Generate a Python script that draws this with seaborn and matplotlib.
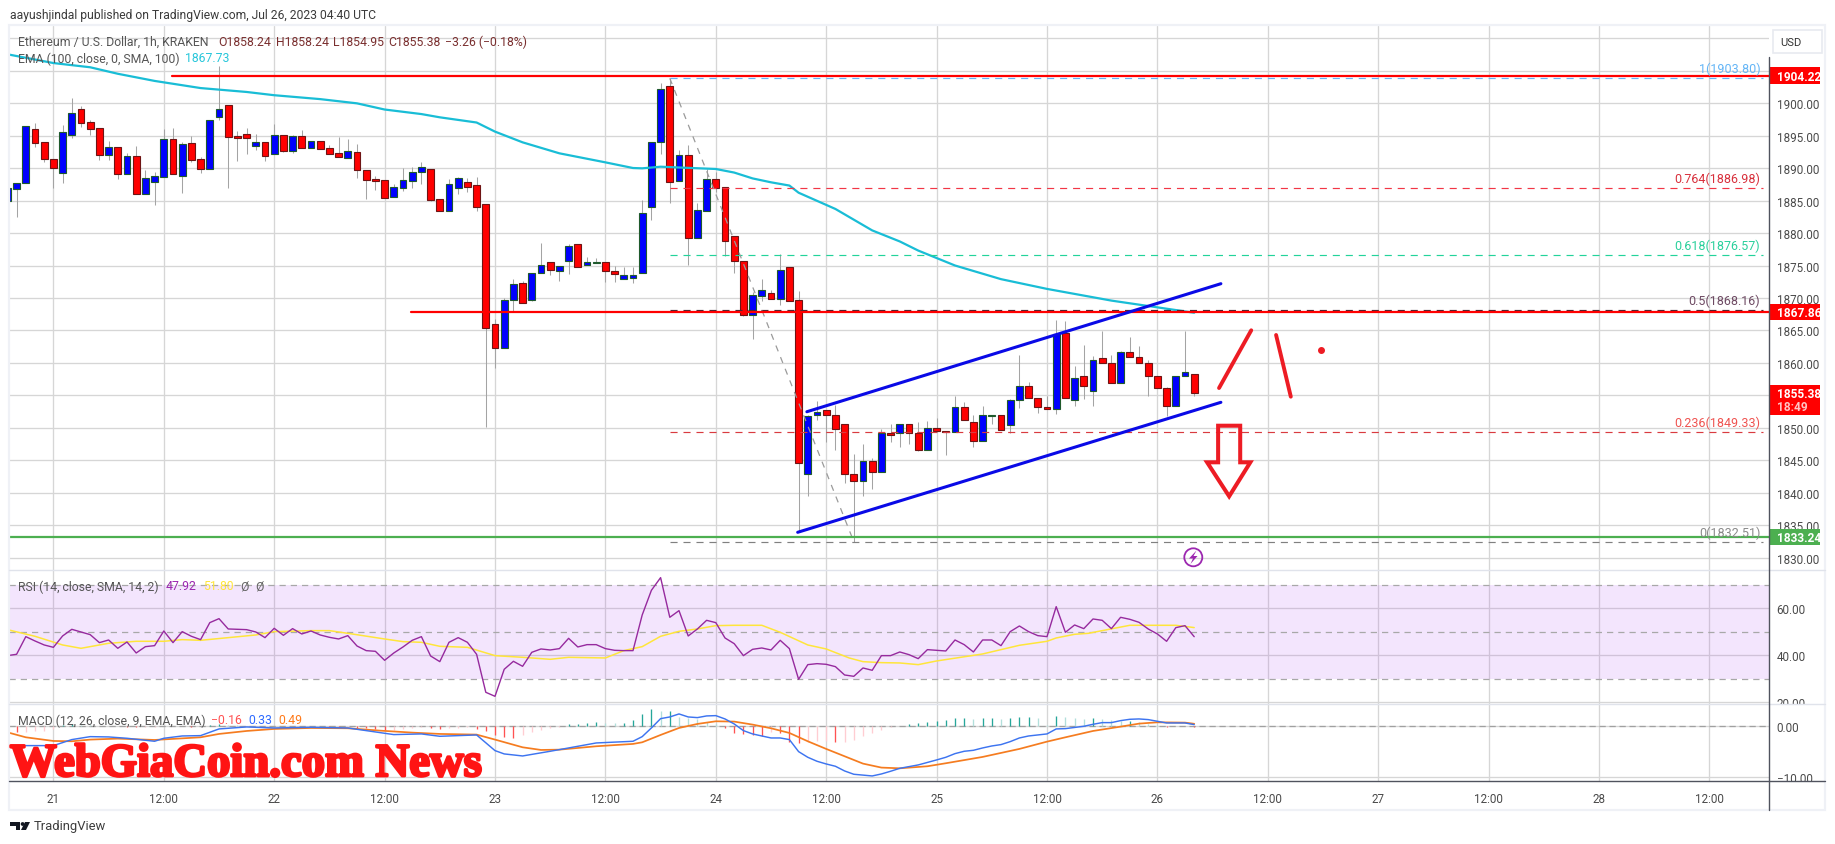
import matplotlib
matplotlib.use("Agg")
import matplotlib.pyplot as plt
import matplotlib.patheffects as pe
from matplotlib.patches import Rectangle, Circle, Polygon
from matplotlib.transforms import Bbox
import seaborn as sns

# ============================================================
# DATA (hours counted from Jul 21 00:00 UTC)
# ============================================================

HOURS = list(range(-5, 125))

OPEN = [1884.97,1886.82,1887.64,1895.95,1893.95,1891.33,1889.28,1895.13,1899.03,1897.03,
        1896.10,1892.05,1893.18,1889.13,1891.79,1886.05,1887.90,1888.67,1894.41,1888.82,
        1893.79,1891.33,1889.90,1897.90,1899.64,1894.92,1895.18,1893.44,1893.95,1892.21,
        1895.03,1892.67,1894.87,1893.13,1894.10,1893.03,1892.26,1891.59,1892.41,1889.64,
        1888.26,1888.10,1885.59,1886.97,1888.05,1889.44,1889.79,1885.18,1883.44,1886.97,
        1887.79,1887.33,1884.41,1865.95,1862.26,1869.74,1872.26,1869.74,1873.79,1875.49,
        1874.21,1875.74,1878.26,1875.13,1875.44,1875.49,1874.10,1872.97,1873.13,1873.79,
        1884.05,1893.95,1902.56,1887.95,1891.95,1879.28,1883.44,1888.26,1887.03,1879.49,
        1875.64,1867.44,1870.36,1870.72,1869.90,1874.72,1869.64,1842.87,1851.95,1852.71,
        1851.95,1850.56,1842.97,1841.79,1844.87,1843.18,1849.28,1849.18,1850.66,1849.18,
        1846.66,1849.95,1849.48,1849.33,1853.18,1850.97,1847.95,1851.89,1851.95,1850.51,
        1854.25,1856.41,1854.56,1853.18,1852.87,1864.56,1854.25,1857.95,1855.64,1860.71,
        1859.95,1856.87,1861.64,1860.87,1859.95,1857.95,1856.10,1853.43,1857.95,1858.24]

CLOSE = [1886.87,1887.69,1896.41,1893.90,1891.44,1890.05,1895.49,1898.41,1896.97,1896.05,
         1892.05,1893.18,1889.13,1891.79,1886.05,1888.41,1888.72,1894.41,1889.13,1893.64,
         1891.28,1889.90,1897.33,1899.03,1894.82,1894.67,1894.67,1893.95,1891.90,1895.03,
         1892.67,1894.87,1893.13,1894.10,1892.97,1892.21,1891.74,1892.56,1889.74,1888.21,
         1888.05,1885.44,1887.03,1888.10,1889.44,1890.10,1885.13,1883.44,1887.49,1888.41,
         1887.13,1884.05,1865.33,1862.26,1869.64,1872.10,1869.28,1873.79,1875.03,1874.36,
         1874.87,1877.95,1874.82,1875.49,1875.54,1874.10,1873.64,1873.49,1873.49,1883.03,
         1893.95,1902.10,1887.90,1891.95,1879.28,1883.49,1888.26,1886.92,1878.82,1875.64,
         1867.44,1870.41,1871.18,1869.90,1874.26,1869.59,1844.56,1851.89,1852.41,1851.95,
         1849.89,1842.87,1841.79,1844.87,1843.18,1849.28,1848.97,1850.66,1849.18,1846.66,
         1849.95,1849.59,1849.33,1853.18,1851.18,1847.95,1851.95,1851.95,1849.74,1854.25,
         1856.41,1854.56,1853.18,1852.87,1864.46,1854.56,1857.74,1856.41,1860.51,1859.95,
         1856.87,1861.64,1860.87,1859.95,1857.95,1856.10,1853.43,1857.95,1858.56,1855.38]

HIGH = [1886.87,1887.69,1896.41,1896.92,1893.95,1891.33,1896.62,1900.77,1899.49,1897.38,
        1896.10,1894.10,1893.18,1892.36,1893.44,1889.69,1889.44,1896.00,1896.10,1894.05,
        1894.97,1891.69,1897.33,1905.64,1899.64,1895.69,1896.15,1895.23,1893.95,1896.77,
        1895.03,1895.08,1895.85,1894.21,1894.10,1893.59,1894.72,1894.46,1893.69,1889.64,
        1888.72,1888.10,1887.49,1890.00,1890.10,1890.87,1889.79,1885.18,1888.31,1888.56,
        1888.46,1888.67,1884.41,1866.77,1869.95,1872.92,1872.56,1873.79,1878.46,1875.49,
        1874.87,1878.31,1878.26,1876.26,1876.10,1875.49,1874.97,1874.77,1874.77,1885.03,
        1893.95,1903.08,1903.80,1892.72,1893.49,1884.62,1889.85,1889.33,1887.03,1879.49,
        1875.64,1870.87,1872.92,1871.18,1876.72,1874.72,1871.08,1851.99,1854.10,1852.71,
        1853.54,1850.56,1846.00,1847.54,1845.33,1849.84,1850.61,1850.66,1850.66,1850.87,
        1851.13,1851.48,1849.48,1854.87,1853.95,1851.99,1853.33,1851.95,1851.95,1854.46,
        1861.23,1857.02,1854.56,1854.97,1866.56,1866.41,1859.48,1862.77,1861.02,1864.87,
        1861.23,1861.79,1863.95,1862.61,1860.46,1857.95,1856.36,1857.95,1864.87,1858.24]

LOW = [1884.97,1882.41,1887.64,1893.28,1890.87,1886.97,1887.69,1894.56,1896.31,1895.08,
       1891.23,1891.23,1888.31,1889.13,1886.05,1886.05,1884.31,1888.67,1889.13,1886.15,
       1890.97,1889.23,1889.90,1897.33,1886.97,1891.08,1892.15,1892.77,1891.08,1892.21,
       1892.41,1892.31,1893.13,1893.08,1892.97,1892.21,1891.74,1891.59,1888.41,1885.23,
       1886.67,1885.44,1885.59,1886.51,1886.92,1887.54,1884.92,1883.44,1883.44,1886.00,
       1886.36,1883.44,1850.20,1859.28,1862.26,1868.05,1869.28,1869.59,1873.79,1873.59,
       1872.67,1873.74,1874.82,1875.13,1875.44,1872.51,1872.51,1872.97,1872.36,1873.79,
       1882.05,1892.15,1884.67,1887.95,1875.13,1879.28,1883.44,1886.26,1876.41,1873.79,
       1867.28,1863.74,1869.59,1869.90,1868.97,1869.59,1833.95,1839.59,1851.28,1847.79,
       1846.61,1841.48,1832.51,1839.59,1840.61,1843.18,1847.89,1847.13,1847.54,1846.46,
       1846.66,1849.33,1845.89,1849.33,1851.18,1847.13,1847.95,1850.61,1849.74,1849.18,
       1853.13,1854.56,1852.30,1852.87,1852.15,1854.56,1853.43,1854.46,1853.43,1859.95,
       1856.87,1856.87,1860.87,1859.95,1854.97,1856.10,1851.79,1853.43,1857.95,1854.95]

EMA_H = [-5,0,4,7,11,16,21,24,29,33,36,40,42,46,48,51,55,60,63,64,66,68.5,72,74,76,78,80,81,85,89,92,94,98,103,108,115,124]
EMA_V = [1907.5,1906.15,1905.5,1904.5,1903.4,1902.3,1901.7,1901.2,1900.6,1899.95,1899.0,1898.3,1897.8,1897.0,
         1895.6,1893.95,1892.26,1890.87,1890.0,1889.95,1890.2,1890.05,1889.85,1889.3,1888.4,1887.8,1887.3,1886.2,
         1883.7,1880.4,1878.7,1877.3,1875.0,1872.9,1871.4,1869.6,1867.73]

RSI = [39.86,40.43,47.94,46.10,44.40,43.40,48.23,51.06,49.93,48.79,45.39,46.52,42.98,45.67,40.99,43.69,44.11,
       50.35,45.39,50.07,48.09,46.67,53.90,55.60,51.21,51.06,50.92,49.93,47.52,51.49,48.51,51.35,49.08,50.35,
       48.65,47.66,46.95,48.37,43.97,41.99,41.70,37.87,40.99,43.55,46.38,47.94,39.72,37.30,45.53,47.52,45.53,
       40.43,24.26,22.55,34.04,37.45,35.32,41.28,42.70,42.27,42.84,47.23,43.55,44.54,44.54,42.84,42.13,41.99,41.99,
       57.16,67.66,73.05,56.17,59.01,48.23,51.21,54.89,53.90,47.38,44.96,39.86,42.55,43.12,42.27,46.38,42.84,
       29.79,36.03,36.45,36.17,35.18,31.63,31.06,34.61,33.62,39.86,39.86,41.42,40.28,38.58,42.41,42.13,41.84,
       46.52,44.54,41.42,46.52,46.52,44.11,50.07,52.48,50.07,48.37,47.94,60.71,49.79,52.91,51.35,55.46,54.89,
       51.35,56.17,55.32,54.04,51.21,49.08,45.96,51.77,52.62,47.92]

RSI_MA_H = [-5,-2,1,3,6,9,12,14,16,22,24,28,30,32,36,38,40,42,45,48,51,54,56,60,62,64,66,68,70,72,74,77,79,82,84,86.5,88,90,92,94,96,101,105,108,109,111,112.5,117,122,124]
RSI_MA_V = [50.92,48.09,44.40,42.98,45.11,45.96,45.96,46.67,46.38,48.65,50.07,50.50,50.50,49.36,46.95,45.82,45.53,43.83,43.40,
            39.86,39.15,38.30,39.15,38.87,41.99,43.69,48.09,50.21,51.21,52.62,52.77,52.77,49.79,44.40,42.70,38.87,37.30,36.88,
            36.74,36.03,37.59,40.57,44.26,45.96,47.38,48.94,49.36,52.77,52.77,51.80]

MACD_H = [-3,0,2,4,6,8,11,12,14,16,18,21,24,28,32,34,37,40,42,46,48,49,51,54,56,59,63,64,65,66,67,68,69,70,71,72,73,74,75,76,77,78,79,80,81,82,
          83,84,85,86,87,89,90,91,92,94,96,97,98,99,100,101,102,103,104,105,106,108,109,110,112,113,114,115,116,117,118,119,120,121,123,124]
MACD_V = [-3.79,-3.79,-2.61,-2.03,-2.09,-2.35,-2.94,-2.35,-1.90,-1.83,-0.52,-0.13,-0.33,-0.20,-0.33,-0.85,-1.63,-1.50,-1.96,-1.70,
          -4.77,-5.42,-5.82,-4.90,-4.25,-3.27,-2.94,-2.03,-0.33,1.50,1.83,2.42,1.83,1.70,2.03,2.09,1.44,0.46,-0.85,-1.50,-1.90,-2.29,
          -2.29,-2.61,-4.97,-6.08,-6.86,-7.39,-7.84,-8.76,-9.41,-9.74,-9.35,-8.82,-8.24,-7.58,-6.60,-6.08,-5.36,-4.90,-4.71,-4.25,-3.86,
          -3.59,-3.01,-2.29,-1.90,-1.50,-0.52,-0.46,0.00,0.39,0.72,0.72,1.11,1.37,1.44,1.31,0.98,0.65,0.65,0.33]

SIGNAL_H = [-5,-3,0,2,4,7,11,16,18,21,24,28,32,35.5,39,42,46,48,51,53,55,59,63,64,66,68,70,72,74,76,78,80,82,84,86,88,90,92,95,97,101,105,108,110,113,116,118,120,123,124]
SIGNAL_V = [-1.18,-2.16,-2.88,-2.94,-2.61,-2.42,-2.68,-2.16,-1.50,-0.92,-0.52,-0.33,-0.39,-0.85,-1.24,-1.50,-1.63,-2.61,-4.12,-4.64,
            -4.58,-3.92,-3.46,-3.14,-1.70,-0.33,0.46,0.98,0.92,0.33,-0.39,-1.31,-2.94,-4.44,-5.88,-7.32,-8.10,-8.24,-7.84,-7.25,-6.01,
            -4.44,-3.01,-2.16,-0.92,-0.07,0.52,0.78,0.72,0.49]

HIST = [-1.0,-1.1,-1.1,-1.0,-0.9,-0.6,0.2,0.4,0.3,0.25,0.15,0.05,0.05,-0.05,-0.1,-0.1,-0.05,0.1,0.1,0.05,-0.05,0.1,
        0.3,0.4,0.3,0.25,0.15,0.1,0.05,0.05,0.1,0.1,0.05,0.05,0.0,-0.05,-0.1,-0.1,-0.3,-0.4,-0.6,-0.8,-0.7,-0.5,-0.3,-0.2,
        -0.4,-0.5,-0.4,-0.3,-0.2,-0.6,-1.0,-1.7,-2.1,-2.2,-1.7,-1.2,-0.7,-0.3,-0.1,0.5,0.5,0.7,0.8,0.65,0.6,0.65,
        1.2,2.4,3.4,2.9,2.9,1.8,1.7,1.4,0.9,0.4,-0.3,-1.3,-1.6,-1.7,-1.9,-1.05,-1.4,-3.0,-3.3,-3.1,-2.9,-2.8,-3.0,-3.0,
        -2.6,-2.0,-1.3,-0.65,-0.1,0.05,0.45,0.65,0.85,1.05,1.25,1.6,1.6,1.4,1.6,1.6,1.4,1.6,1.8,1.8,1.6,0.2,2.0,1.8,1.6,
        1.4,1.6,1.4,1.2,1.0,1.0,0.8,0.5,0.2,-0.05,0.0,0.05,-0.16]

FIB_LEVELS = [1903.80, 1886.98, 1876.57, 1868.16, 1849.33, 1832.51]
FIB_RATIOS = ["1", "0.764", "0.618", "0.5", "0.236", "0"]
FIB_COLORS = ["#64b5f6", "#f23645", "#22d39b", "#3a2a35", "#d93b40", "#808080"]
FIB_TEXT = ["#64b5f6", "#d8303c", "#2ad09c", "#6e4a63", "#ef5350", "#8a8a8a"]

DAY_TICKS = list(range(0, 181, 12))
DAY_LABELS = ["21", "12:00", "22", "12:00", "23", "12:00", "24", "12:00",
              "25", "12:00", "26", "12:00", "27", "12:00", "28", "12:00"]

# ============================================================
# FIGURE
# ============================================================

sns.set_theme(style="white")
plt.rcParams["font.family"] = ["Roboto", "DejaVu Sans"]

W, H = 1835, 845
GRID = "#d6d6d6"
TXT = "#4a4a4a"
X_LEFT, X_RIGHT = 9, 1769
LEG = 8.85


def hour_x(px):
    return (px - 53.4) / 9.2


def price_y(v):
    return 104 + (1900 - v) * 6.5


def panel(top, bottom):
    return fig.add_axes([X_LEFT / W, 1 - bottom / H, (X_RIGHT - X_LEFT) / W, (bottom - top) / H])


fig = plt.figure(figsize=(W / 100, H / 100), dpi=100, facecolor="white")
ax = panel(27, 571)
ax_rsi = panel(571, 705)
ax_macd = panel(705, 782)

for a in (ax, ax_rsi, ax_macd):
    a.set_xlim(hour_x(X_LEFT), hour_x(X_RIGHT))
    a.set_xticks(DAY_TICKS)
    a.grid(True, color=GRID, lw=0.95)
    a.set_axisbelow(True)
    a.yaxis.tick_right()
    a.tick_params(length=0, labelsize=8.4, labelcolor=TXT, pad=5.5, labelbottom=False)
    for s in a.spines.values():
        s.set_visible(False)
    a.set_xlabel("")
    a.set_ylabel("")

# ------------------------------------------------------------
# main panel
# ------------------------------------------------------------
ax.set_ylim(1828.15, 1911.85)
ax.set_yticks(list(range(1830, 1911, 5)))
# the 1910 level sits under the currency button, so it has a grid line and no label
ax.set_yticklabels([f"{v}.00" if v < 1910 else "" for v in range(1830, 1911, 5)])

ax.vlines(HOURS, LOW, HIGH, color="#a4a4a4", lw=0.75, zorder=2)
up = [c >= o for o, c in zip(OPEN, CLOSE)]
ax.bar(HOURS, [abs(c - o) for o, c in zip(OPEN, CLOSE)], bottom=[min(o, c) for o, c in zip(OPEN, CLOSE)],
       width=0.72, color=["#0000ff" if u else "#ff0000" for u in up],
       edgecolor=["#1f5a2c" if u else "#6e1414" for u in up], linewidth=0.8, zorder=3)

sns.lineplot(x=EMA_H, y=EMA_V, ax=ax, color="#19bdd6", lw=1.6, zorder=4, errorbar=None)

# fib retracement
fib_start, fib_end = 67, hour_x(1763)
for lvl, ratio, col, tcol in zip(FIB_LEVELS, FIB_RATIOS, FIB_COLORS, FIB_TEXT):
    ax.plot([fib_start, fib_end], [lvl, lvl], color=col, lw=0.85, ls=(0, (6, 5)), zorder=4)
    ax.annotate(f"{ratio}({lvl:.2f})", (fib_end, lvl), xytext=(-2, 7), textcoords="offset points",
                ha="right", va="center", fontsize=9, color=tcol, zorder=6)
ax.plot([67, 87], [1903.80, 1832.51], color="#9a9a9a", lw=0.9, ls=(0, (5, 5)), zorder=4)

# hand drawn levels and channel
ax.plot([12.9, hour_x(X_RIGHT)], [1904.22, 1904.22], color="#ff0000", lw=1.6, zorder=5)
ax.plot([38.9, hour_x(X_RIGHT)], [1867.86, 1867.86], color="#ff0000", lw=1.6, zorder=5)
ax.plot([hour_x(X_LEFT), hour_x(X_RIGHT)], [1833.24, 1833.24], color="#4caf50", lw=1.6, zorder=5)
ax.plot([81.9, 126.9], [1852.5, 1872.2], color="#0a0ae6", lw=2.2, zorder=5)
ax.plot([80.9, 126.9], [1833.95, 1853.95], color="#0a0ae6", lw=2.2, zorder=5)
ax.plot([126.7, 130.2], [1856.15, 1865.03], color="#ed1c24", lw=2.8, zorder=5)
ax.plot([132.9, 134.5], [1864.31, 1854.82], color="#ed1c24", lw=2.8, zorder=5)
ax.plot([137.75], [1862.05], "o", color="#ed1c24", ms=4, zorder=5)
ax.add_patch(Polygon([(126.6, 1850.35), (129, 1850.35), (129, 1844.72), (130.1, 1844.72), (127.8, 1839.49),
                      (125.4, 1844.72), (126.6, 1844.72)], closed=True, fill=False, ec="#ed1c24", lw=2.9, zorder=5))

# ------------------------------------------------------------
# RSI panel
# ------------------------------------------------------------
ax_rsi.set_ylim(19.28, 76.3)
ax_rsi.set_yticks([20, 40, 60])
ax_rsi.set_yticklabels(["20.00", "40.00", "60.00"])
ax_rsi.axhspan(30, 70, color="#a83cf0", alpha=0.13, lw=0, zorder=1)
for lvl in (70, 50, 30):
    ax_rsi.axhline(lvl, color="#a8a8a8", lw=0.9, ls=(0, (5, 4)), zorder=1.5)
sns.lineplot(x=RSI_MA_H, y=RSI_MA_V, ax=ax_rsi, color="#ffe53b", lw=1.1, zorder=3, errorbar=None)
sns.lineplot(x=HOURS, y=RSI, ax=ax_rsi, color="#962a9e", lw=1.0, zorder=4, errorbar=None)

# ------------------------------------------------------------
# MACD panel
# ------------------------------------------------------------
ax_macd.set_ylim(-10.73, 4.37)
ax_macd.set_yticks([-10, 0])
ax_macd.set_yticklabels(["\u221210.00", "0.00"])
ax_macd.axhline(0, color="#a0a0a0", lw=0.9, ls=(0, (5, 3)), zorder=1.5)
hist_cols = []
for i, v in enumerate(HIST):
    prev = HIST[i - 1] if i else v
    if v >= 0:
        hist_cols.append("#26a69a" if v >= prev else "#b2dfdb")
    else:
        hist_cols.append("#ff5252" if v < prev else "#ffcdd2")
ax_macd.vlines(HOURS, 0, HIST, colors=hist_cols, lw=0.95, zorder=2)
sns.lineplot(x=SIGNAL_H, y=SIGNAL_V, ax=ax_macd, color="#f57c20", lw=1.25, zorder=3, errorbar=None)
sns.lineplot(x=MACD_H, y=MACD_V, ax=ax_macd, color="#3d74f0", lw=1.05, zorder=3, errorbar=None)

ax_macd.set_xticklabels(DAY_LABELS)
ax_macd.tick_params(axis="x", labelbottom=True, pad=8)

# clip tick labels that run into the panel edges, as on the original
for tick, box in ((ax_rsi.yaxis.get_major_ticks()[0], (571, 705)), (ax_macd.yaxis.get_major_ticks()[0], (705, 782))):
    tick.label2.set_clip_box(Bbox([[X_RIGHT, H - box[1]], [W, H - box[0]]]))
    tick.label2.set_clip_on(True)

# ============================================================
# OVERLAY: frame, price tags, legend texts
# ============================================================

ov = fig.add_axes([0, 0, 1, 1], zorder=10)
ov.set_xlim(0, W)
ov.set_ylim(H, 0)
ov.axis("off")

FRAME = "#eff1f6"
ov.add_patch(Rectangle((8.5, 26), 1816, 785, fill=False, ec=FRAME, lw=1.6))
ov.plot([X_LEFT, 1825], [571, 571], color="#e0e3eb", lw=1)
ov.plot([X_LEFT, 1825], [705, 705], color="#e0e3eb", lw=1)
ov.plot([X_LEFT, 1825], [782, 782], color="#50535e", lw=1)
ov.plot([X_RIGHT, X_RIGHT], [58, 811], color="#50535e", lw=1)
ov.add_patch(Rectangle((1773, 31), 49, 23, fc="white", ec="#e8eaf0", lw=1.2))
ov.text(1791, 43, "USD", fontsize=8, color="#333333", ha="center", va="center")

for val, label, col, hh in ((1904.22, "1904.22", "#ff0000", 16.5), (1867.86, "1867.86", "#ff0000", 16.5),
                            (1833.24, "1833.24", "#4caf50", 16.5)):
    yy = price_y(val)
    ov.add_patch(Rectangle((X_RIGHT, yy - hh / 2), 51, hh, fc=col, ec="none"))
    ov.text(1777, yy + 0.5, label, fontsize=8.6, color="white", fontweight="bold", va="center")
ov.add_patch(Rectangle((X_RIGHT, 386), 51, 30, fc="#ff0000", ec="none"))
ov.text(1777, 395, "1855.38", fontsize=8.6, color="white", fontweight="bold", va="center")
ov.text(1777, 408, "18:49", fontsize=8.6, color="#ffc4c4", fontweight="bold", va="center")

ov.text(10, 15, "aayushjindal published on TradingView.com, Jul 26, 2023 04:40 UTC",
        fontsize=8.75, color="#3b3b3b", va="center")
ov.text(18, 42, "Ethereum / U.S. Dollar, 1h, KRAKEN", fontsize=LEG, color="#555555", va="center")
for xx, s in ((218, "O1858.24"), (275.5, "H1858.24"), (333, "L1854.95"), (388, "C1855.38"), (445, "\u22123.26 (\u22120.18%)")):
    ov.text(xx, 42, s, fontsize=LEG, color="#7a2f2f", va="center")
ov.text(18, 59, "EMA (100, close, 0, SMA, 100)", fontsize=LEG, color="#555555", va="center")
ov.text(185, 59, "1867.73", fontsize=LEG, color="#26c6da", va="center")

ov.text(18, 587, "RSI (14, close, SMA, 14, 2)", fontsize=LEG, color="#555555", va="center")
ov.text(166, 587, "47.92", fontsize=LEG, color="#9c27b0", va="center")
ov.text(203, 587, "51.80", fontsize=LEG, color="#ffe53b", va="center")
ov.text(240, 587, "\u00d8", fontsize=LEG, color="#666666", va="center")
ov.text(255, 587, "\u00d8", fontsize=LEG, color="#666666", va="center")

ov.text(18, 721, "MACD (12, 26, close, 9, EMA, EMA)", fontsize=LEG, color="#555555", va="center")
ov.text(211, 721, "\u22120.16", fontsize=LEG, color="#ff5252", va="center")
ov.text(248, 721, "0.33", fontsize=LEG, color="#2f6bff", va="center")
ov.text(278, 721, "0.49", fontsize=LEG, color="#ff7a1a", va="center")

ov.text(10, 777, "WebGiaCoin.com News", family="Liberation Serif", fontweight="bold", fontsize=33.6,
        color="#ff1414", va="baseline", path_effects=[pe.withStroke(linewidth=2.0, foreground="#ff1414")])

# event marker
ov.add_patch(Circle((1193.3, 558.3), 9, fill=False, ec="#9c27b0", lw=1.3))
ov.add_patch(Polygon([(1196.5, 551.5), (1189, 559.5), (1193, 559.5), (1190.5, 565), (1197.5, 557), (1193.5, 557)],
                     closed=True, fc="#9c27b0", ec="none"))

# TradingView logo and name
ov.add_patch(Polygon([(10, 823), (20, 823), (20, 831), (15.5, 831), (15.5, 826.5), (10, 826.5)], closed=True, fc="#131722", ec="none"))
ov.add_patch(Circle((22.6, 825), 1.9, fc="#131722", ec="none"))
ov.add_patch(Polygon([(25, 823), (30, 823), (26, 831), (21, 831)], closed=True, fc="#131722", ec="none"))
ov.text(33.5, 827, "TradingView", fontsize=9.4, color="#3d3d3d", va="center")

fig.savefig("out.png", dpi=100)
